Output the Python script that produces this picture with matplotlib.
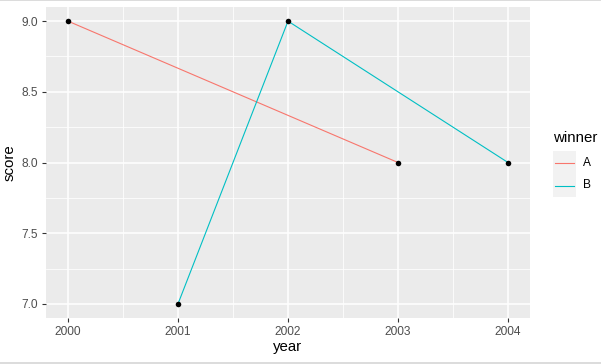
import matplotlib
matplotlib.use("Agg")
import matplotlib.pyplot as plt
from matplotlib.lines import Line2D
from matplotlib.patches import Rectangle
import numpy as np

plt.rcParams['font.family'] = ['Liberation Sans', 'DejaVu Sans']

years_A = [2000, 2003]
score_A = [9.0, 8.0]
years_B = [2001, 2002, 2004]
score_B = [7.0, 9.0, 8.0]
xticks = [2000, 2001, 2002, 2003, 2004]
yticks = [7.0, 7.5, 8.0, 8.5, 9.0]
series_names = ['A', 'B']
col_A = '#F8766D'
col_B = '#00BFC4'

W, H = 601, 364
fig = plt.figure(figsize=(W/100, H/100), dpi=100)

def fx(px):
    return px / W

def fy(py):
    return 1 - py / H

ax = fig.add_axes([fx(46), fy(318), fx(530) - fx(46), fy(7) - fy(318)])
ax.set_facecolor('#EBEBEB')
for s in ax.spines.values():
    s.set_visible(False)

ax.set_xlim(1999.8, 2004.2)
ax.set_ylim(6.9, 9.1)
ax.set_xticks(xticks)
ax.set_xticklabels([str(x) for x in xticks])
ax.set_yticks(yticks)
ax.set_yticklabels([f"{y:.1f}" for y in yticks])
ax.set_xticks(np.arange(2000.5, 2004, 1.0), minor=True)
ax.set_yticks(np.arange(7.25, 9.0, 0.5), minor=True)
ax.grid(which='major', color='white', linewidth=1.1)
ax.grid(which='minor', color='white', linewidth=0.55)
ax.set_axisbelow(True)
ax.tick_params(which='major', length=3, width=0.8, color='#333333', labelsize=8.6, labelcolor='#4D4D4D', pad=2.5)
ax.tick_params(which='minor', length=0)

ax.plot(years_A, score_A, color=col_A, linewidth=0.8, zorder=2)
ax.plot(years_B, score_B, color=col_B, linewidth=0.8, zorder=2)
ax.scatter(years_A + years_B, score_A + score_B, color='black', s=16, zorder=3, linewidths=0)

ax.set_xlabel('year', fontsize=10.8, labelpad=2)
ax.set_ylabel('score', fontsize=10.8, labelpad=4)

# manual legend (ggplot style)
fig.text(fx(553), fy(138), 'winner', fontsize=10.8, ha='left', va='center')
for i, (name, col) in enumerate(zip(series_names, [col_A, col_B])):
    top = 151 + 23 * i
    fig.add_artist(Rectangle((fx(553), fy(top + 23)), fx(23), 23 / H,
                             transform=fig.transFigure, facecolor='#F2F2F2', edgecolor='none'))
    yc = top + 11.5
    fig.add_artist(Line2D([fx(555), fx(574)], [fy(yc), fy(yc)], color=col, linewidth=0.8,
                          transform=fig.transFigure))
    fig.text(fx(583), fy(yc), name, fontsize=8.6, ha='left', va='center')

# thin gray frame lines at top and bottom of the image
fig.add_artist(Rectangle((0, fy(1)), 1, 1 / H, transform=fig.transFigure,
                         facecolor='#DCDCDC', edgecolor='none'))
fig.add_artist(Rectangle((0, 0), 1, 2 / H, transform=fig.transFigure,
                         facecolor='#DCDCDC', edgecolor='none'))

fig.savefig('out.png', dpi=100)
